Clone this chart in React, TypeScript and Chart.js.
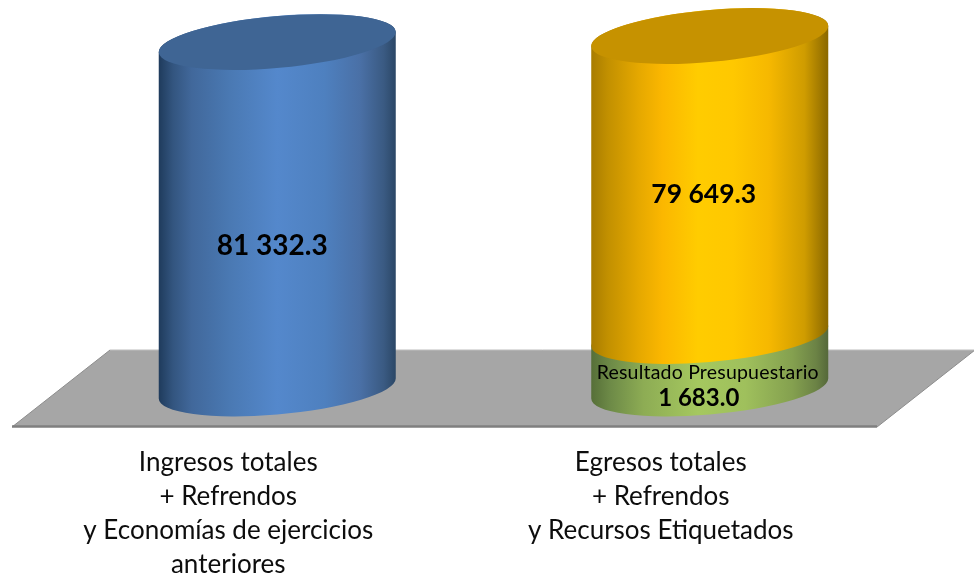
import { useEffect, useRef } from "react";
import { Chart, registerables } from "chart.js";

Chart.register(...registerables);

const categories = [
  ["Ingresos totales", "+ Refrendos", "y Economías de ejercicios", "anteriores"],
  ["Egresos totales", "+ Refrendos", "y Recursos Etiquetados"],
];

// The reference picture does not draw the cylinders in proportion to the printed
// figures, so the heights read off the picture and the printed labels are kept apart.
const ingresosHeights = [81332.3, null];
const resultadoHeights = [null, 12323];
const egresosHeights = [null, 70423];

const ingresosLabel = "81 332.3";
const egresosLabel = "79 649.3";
const resultadoCaption = "Resultado Presupuestario";
const resultadoLabel = "1 683.0";

const FONT = "Lato, 'Open Sans', sans-serif";
const DEPTH_X = 98;
const DEPTH_Y = 77;
const TILT = Math.atan2(-21, 236);
const ASPECT = 0.218;

type Stop = [number, string];
const blueStops: Stop[] = [
  [0, "#1f3b5c"], [0.06, "#33557f"], [0.14, "#41689b"], [0.3, "#4a79b3"],
  [0.5, "#5488cc"], [0.7, "#4e80bf"], [0.85, "#4a70a6"], [0.95, "#3a5a82"], [1, "#2b4766"],
];
const greenStops: Stop[] = [
  [0, "#566f38"], [0.08, "#6d8a47"], [0.22, "#8dac54"], [0.45, "#a5c85f"],
  [0.65, "#9fc05c"], [0.85, "#84a04f"], [0.95, "#6b8245"], [1, "#55683a"],
];
const yellowStops: Stop[] = [
  [0, "#a87c00"], [0.07, "#c29000"], [0.2, "#e5a800"], [0.3, "#fbb700"], [0.45, "#ffcc00"],
  [0.6, "#ffc800"], [0.75, "#f6b800"], [0.9, "#cf9c00"], [1, "#8a6800"],
];
const bodyStops = [blueStops, greenStops, yellowStops];
const capColors = ["#3f6594", "#8aa854", "#c69200"];

function cylinderPlugin() {
  return {
    id: "cylinders",
    beforeDatasetsDraw(chart: any) {
      const { ctx, chartArea: a } = chart;
      const bottom = a.bottom;
      ctx.save();
      ctx.beginPath();
      ctx.moveTo(a.left, bottom);
      ctx.lineTo(a.right, bottom);
      ctx.lineTo(a.right + DEPTH_X, bottom - DEPTH_Y);
      ctx.lineTo(a.left + DEPTH_X, bottom - DEPTH_Y);
      ctx.closePath();
      ctx.fillStyle = "#a6a6a6";
      ctx.fill();
      ctx.lineWidth = 1;
      ctx.strokeStyle = "#bdbdbd";
      ctx.beginPath();
      ctx.moveTo(a.left + DEPTH_X, bottom - DEPTH_Y);
      ctx.lineTo(a.right + DEPTH_X, bottom - DEPTH_Y);
      ctx.stroke();
      ctx.strokeStyle = "#8c8c8c";
      ctx.beginPath();
      ctx.moveTo(a.left + DEPTH_X, bottom - DEPTH_Y);
      ctx.lineTo(a.left, bottom);
      ctx.moveTo(a.right, bottom);
      ctx.lineTo(a.right + DEPTH_X, bottom - DEPTH_Y);
      ctx.stroke();
      ctx.lineWidth = 2.5;
      ctx.strokeStyle = "#7f7f7f";
      ctx.beginPath();
      ctx.moveTo(a.left, bottom - 0.5);
      ctx.lineTo(a.right, bottom - 0.5);
      ctx.stroke();
      ctx.restore();
    },
    afterDatasetsDraw(chart: any) {
      const { ctx } = chart;
      const dx = DEPTH_X / 2;
      const dy = DEPTH_Y / 2;
      const phi = TILT;
      const count = chart.data.labels.length;
      for (let i = 0; i < count; i++) {
        let lastDs = -1;
        chart.data.datasets.forEach((d: any, k: number) => {
          if (d.data[i] != null) lastDs = k;
        });
        chart.data.datasets.forEach((d: any, k: number) => {
          if (d.data[i] == null) return;
          const el = chart.getDatasetMeta(k).data[i];
          const cx = el.x + dx;
          const half = el.width / 2;
          const yTop = el.y - dy;
          const yBase = el.base - dy;
          const s2 = Math.sin(phi) ** 2;
          const c2 = Math.cos(phi) ** 2;
          const ra = half / Math.sqrt(c2 + ASPECT * ASPECT * s2);
          const rb = ra * ASPECT;
          const t0 = Math.atan(-ASPECT * Math.tan(phi));
          const grad = ctx.createLinearGradient(cx - half, 0, cx + half, 0);
          bodyStops[k].forEach(([o, c]) => grad.addColorStop(o, c));
          ctx.save();
          ctx.beginPath();
          ctx.ellipse(cx, yBase, ra, rb, phi, t0, t0 + Math.PI, false);
          ctx.ellipse(cx, yTop, ra, rb, phi, t0 + Math.PI, t0 + 2 * Math.PI, false);
          ctx.closePath();
          ctx.fillStyle = grad;
          ctx.fill();
          if (k === lastDs) {
            ctx.beginPath();
            ctx.ellipse(cx, yTop, ra, rb, phi, 0, Math.PI * 2);
            ctx.fillStyle = capColors[k];
            ctx.fill();
          }
          ctx.restore();
        });
      }
      const text = (s: string, ds: number, idx: number, ox: number, oy: number, font: string, ls: string) => {
        const el = chart.getDatasetMeta(ds).data[idx];
        ctx.save();
        ctx.font = font;
        ctx.letterSpacing = ls;
        ctx.fillStyle = "#000000";
        ctx.textAlign = "center";
        ctx.textBaseline = "middle";
        ctx.fillText(s, el.x + dx + ox, (el.y + el.base) / 2 - dy + oy);
        ctx.restore();
      };
      text(ingresosLabel, 0, 0, -5, 31, `bold 28px ${FONT}`, "0px");
      text(egresosLabel, 2, 1, -6, 8, `bold 26.5px ${FONT}`, "0px");
      text(resultadoCaption, 1, 1, -2, 10, `19.5px ${FONT}`, "0.2px");
      text(resultadoLabel, 1, 1, -11, 36, `bold 24px ${FONT}`, "0px");
    },
  };
}

export default function App() {
  const ref = useRef<HTMLCanvasElement>(null);
  useEffect(() => {
    const chart = new Chart(ref.current!, {
      type: "bar",
      data: {
        labels: categories,
        datasets: [
          { label: "Ingresos", data: ingresosHeights, backgroundColor: "transparent" },
          { label: "Resultado Presupuestario", data: resultadoHeights, backgroundColor: "transparent" },
          { label: "Egresos", data: egresosHeights, backgroundColor: "transparent" },
        ],
      } as any,
      options: {
        responsive: false,
        animation: false,
        layout: { padding: { left: 12, right: 97, top: 43.6, bottom: 0 } },
        datasets: { bar: { categoryPercentage: 1, barPercentage: 0.548 } },
        plugins: { legend: { display: false }, tooltip: { enabled: false } },
        scales: {
          x: {
            stacked: true,
            grid: { display: false },
            border: { display: false },
            afterFit(scale: any) {
              scale.height = 150;
            },
            ticks: {
              autoSkip: false,
              maxRotation: 0,
              padding: 11,
              color: "#0d0d0d",
              font: { family: FONT, size: 26, lineHeight: 1.308 },
            },
          },
          y: { stacked: true, display: false, min: 0, max: 90000 },
        },
      } as any,
      plugins: [cylinderPlugin()],
    });
    return () => chart.destroy();
  }, []);
  return (
    <canvas
      ref={ref}
      width={974}
      height={577}
      style={{ position: "absolute", left: 0, top: 0, display: "block" }}
    />
  );
}
